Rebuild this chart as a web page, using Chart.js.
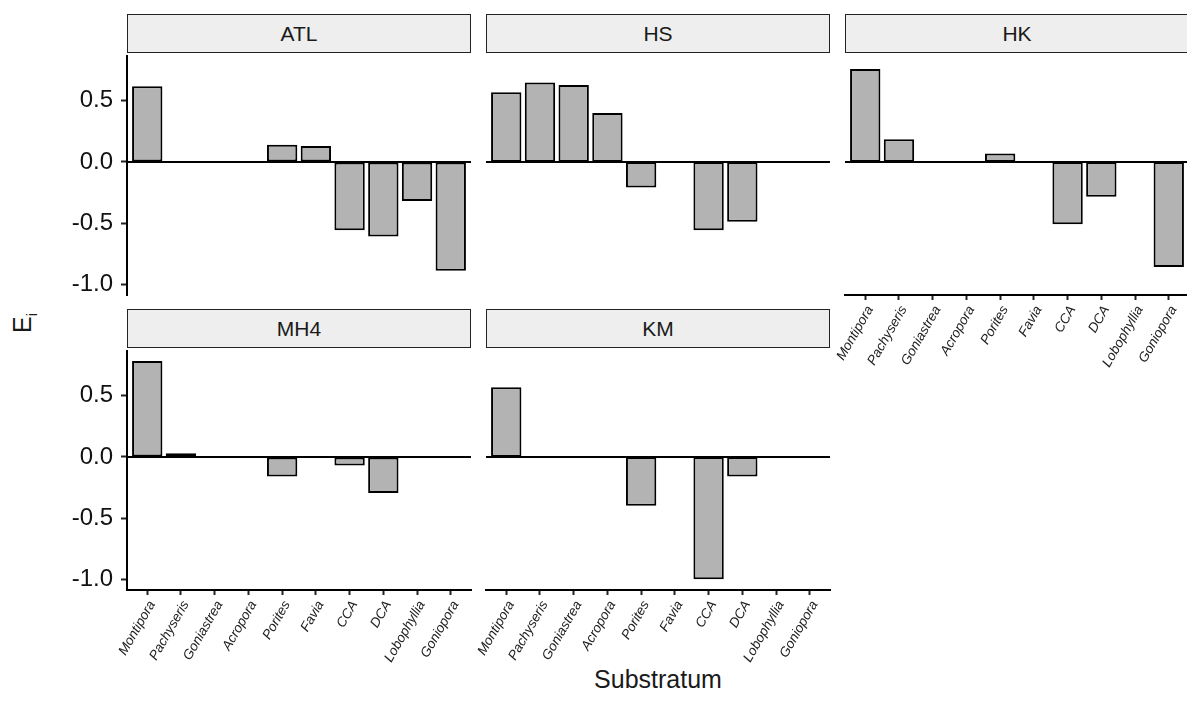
<!DOCTYPE html>
<html>
<head>
<meta charset="utf-8">
<script src="https://cdn.jsdelivr.net/npm/chart.js@4.4.0/dist/chart.umd.min.js"></script>
<style>
  html, body { margin: 0; padding: 0; background: #fff; }
  #wrap { position: relative; width: 1187px; height: 713px; overflow: hidden; background: #fff;
          font-family: "Liberation Sans", Arial, Helvetica, sans-serif; color: #1a1a1a; }
  canvas { position: absolute; }
  .strip { position: absolute; box-sizing: border-box; border: 1.6px solid #222; background: #EEEEEE;
           color: #1a1a1a; font-size: 21px; display: flex; align-items: center; justify-content: center; }
  #ytitle { position: absolute; left: 24px; top: 323px; transform: translate(-50%, -50%) rotate(-90deg);
            font-size: 25px; white-space: nowrap; }
  #ytitle sub { font-size: 15px; }
  #xtitle { position: absolute; left: 658px; top: 665px; transform: translateX(-50%);
            font-size: 25px; white-space: nowrap; line-height: 28px; }
</style>
</head>
<body>
<div id="wrap">
  <div id="ytitle">E<sub>i</sub></div>
  <div id="xtitle">Substratum</div>
</div>
<script>
// ---- data ----
const categories = ['Montipora', 'Pachyseris', 'Goniastrea', 'Acropora', 'Porites',
                    'Favia', 'CCA', 'DCA', 'Lobophyllia', 'Goniopora'];
const facetNames = ['ATL', 'HS', 'HK', 'MH4', 'KM'];
const yTickValues = [-1.0, -0.5, 0.0, 0.5];
const yTickLabels = ['-1.0', '-0.5', '0.0', '0.5'];

const ATL = [0.62, null, null, null, 0.14, 0.13, -0.56, -0.61, -0.32, -0.89];
const HS  = [0.57, 0.65, 0.63, 0.40, -0.21, null, -0.56, -0.49, null, null];
const HK  = [0.76, 0.185, null, null, 0.07, null, -0.51, -0.285, null, -0.86];
const MH4 = [0.785, 0.03, null, null, -0.16, null, -0.07, -0.295, null, null];
const KM  = [0.57, null, null, null, -0.40, null, -1.0, -0.16, null, null];
const facetValues = { ATL, HS, HK, MH4, KM };

// ---- layout ----
const panelSpec = {
  ATL: { col: 0, row: 0, yAxis: true,  xAxis: false },
  HS:  { col: 1, row: 0, yAxis: false, xAxis: false },
  HK:  { col: 2, row: 0, yAxis: false, xAxis: true  },
  MH4: { col: 0, row: 1, yAxis: true,  xAxis: true  },
  KM:  { col: 1, row: 1, yAxis: false, xAxis: true  }
};
const colLeft = [127, 486, 845];
const rowTop = [56, 351];
const panelW = 344, panelH = 239;
const stripH = 39, stripGap = 3;
const L = 120, T = 10, R = 20, B = 110, YW = 70, XH = 100;
const FONT = '"Liberation Sans", Arial, Helvetica, sans-serif';

const zeroLine = {
  id: 'zeroLine',
  afterDatasetsDraw(chart) {
    const { ctx, chartArea: a, scales: { y } } = chart;
    const py = y.getPixelForValue(0);
    ctx.save();
    ctx.strokeStyle = '#000';
    ctx.lineWidth = 2;
    ctx.beginPath();
    ctx.moveTo(a.left, py);
    ctx.lineTo(a.right, py);
    ctx.stroke();
    ctx.restore();
  }
};

const wrap = document.getElementById('wrap');

facetNames.forEach(name => {
  const spec = panelSpec[name];
  const px = colLeft[spec.col], py = rowTop[spec.row];

  const strip = document.createElement('div');
  strip.className = 'strip';
  strip.style.left = px + 'px';
  strip.style.width = panelW + 'px';
  strip.style.top = (py - stripGap - stripH) + 'px';
  strip.style.height = stripH + 'px';
  strip.textContent = name;
  wrap.appendChild(strip);

  const cv = document.createElement('canvas');
  const cw = L + panelW + R, ch = T + panelH + B;
  cv.width = cw; cv.height = ch;
  cv.style.width = cw + 'px'; cv.style.height = ch + 'px';
  cv.style.left = (px - L) + 'px';
  cv.style.top = (py - T) + 'px';
  wrap.appendChild(cv);

  const vals = facetValues[name];
  new Chart(cv, {
    type: 'bar',
    data: {
      datasets: [{
        data: categories.map((c, i) => ({ x: i, y: vals[i] })),
        backgroundColor: '#B3B3B3',
        borderColor: '#000',
        borderWidth: 2,
        borderSkipped: false,
        barPercentage: 0.9,
        categoryPercentage: 1.0
      }]
    },
    options: {
      responsive: false,
      animation: false,
      devicePixelRatio: 1,
      layout: { padding: { left: spec.yAxis ? L - YW : L, top: T, right: R, bottom: spec.xAxis ? B - XH : B } },
      plugins: { legend: { display: false }, tooltip: { enabled: false } },
      scales: {
        x: {
          type: 'linear',
          offset: false,
          min: -0.6, max: 9.6,
          display: spec.xAxis,
          afterBuildTicks: s => { s.ticks = categories.map((c, i) => ({ value: i })); },
          afterFit: s => { s.height = spec.xAxis ? XH : 0; s.paddingLeft = 0; s.paddingRight = 0; },
          grid: { display: true, offset: false, drawOnChartArea: false, drawTicks: true, tickLength: 5, tickWidth: 2, tickColor: '#222' },
          border: { display: true, color: '#000', width: 2 },
          ticks: {
            autoSkip: false, minRotation: 60, maxRotation: 60, padding: 3, labelOffset: 5,
            color: '#222', font: { family: FONT, size: 13.5, style: 'italic' },
            callback: v => categories[v]
          }
        },
        y: {
          min: -1.089, max: 0.867,
          display: spec.yAxis,
          afterBuildTicks: s => { s.ticks = yTickValues.map(v => ({ value: v })); },
          afterFit: s => { s.width = spec.yAxis ? YW : 0; s.paddingTop = 0; s.paddingBottom = 0; },
          grid: { display: true, drawOnChartArea: false, drawTicks: true, tickLength: 6, tickWidth: 2, tickColor: '#222' },
          border: { display: true, color: '#000', width: 2 },
          ticks: {
            padding: 8, color: '#111', font: { family: FONT, size: 24 },
            callback: v => yTickLabels[yTickValues.indexOf(v)]
          }
        }
      }
    },
    plugins: [zeroLine]
  });
});
</script>
</body>
</html>
